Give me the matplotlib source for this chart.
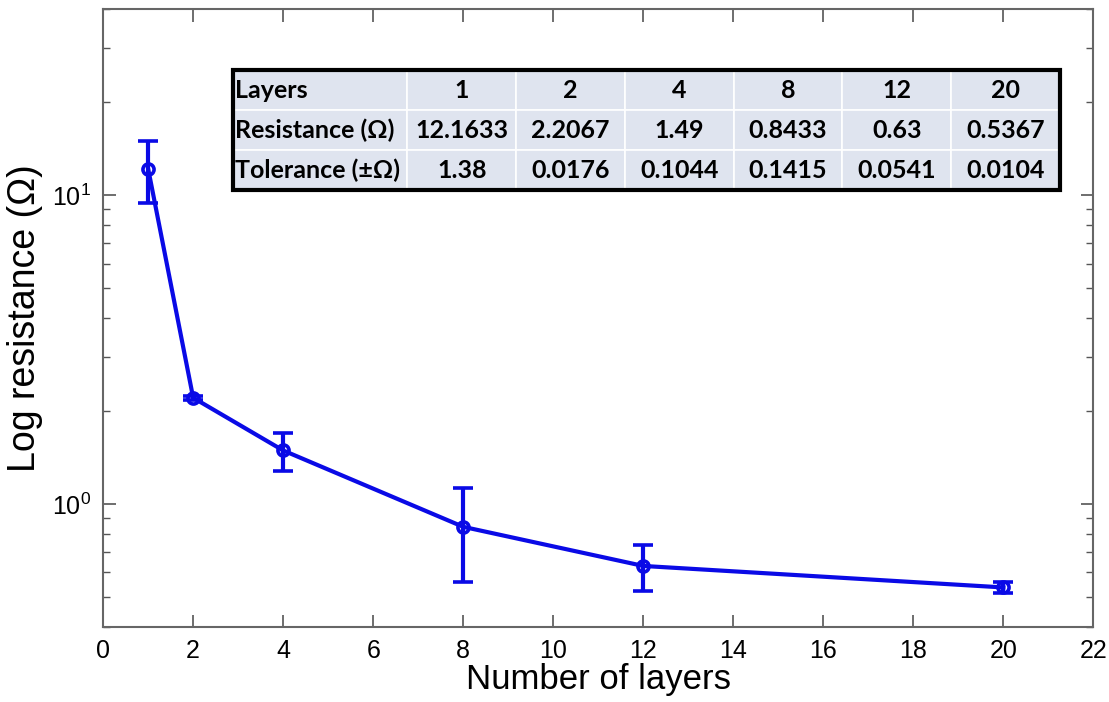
import matplotlib
matplotlib.use("Agg")
import matplotlib.pyplot as plt
from matplotlib import font_manager
from matplotlib.ticker import LogLocator, MultipleLocator

# data
layers = [1, 2, 4, 8, 12, 20]
resistance = [12.1633, 2.2067, 1.49, 0.8433, 0.63, 0.5367]
tolerance = [1.38, 0.0176, 0.1044, 0.1415, 0.0541, 0.0104]
# half length of the drawn error bars
err_half = [2.76, 0.035, 0.209, 0.283, 0.108, 0.021]

row_names = ["Layers", "Resistance (\u03a9)", "Tolerance (\u00b1\u03a9)"]
res_text = ["12.1633", "2.2067", "1.49", "0.8433", "0.63", "0.5367"]
tol_text = ["1.38", "0.0176", "0.1044", "0.1415", "0.0541", "0.0104"]

names = {f.name for f in font_manager.fontManager.ttflist}
axis_font = "Liberation Sans Narrow" if "Liberation Sans Narrow" in names else "Liberation Sans"
table_font = ["Lato", "DejaVu Sans"]

BLUE = "#0a0ae6"

fig = plt.figure(figsize=(11.09, 7.02), dpi=100)
ax = fig.add_axes([0.093, 0.107, 0.893, 0.880])

ax.errorbar(layers, resistance, yerr=err_half, color=BLUE, lw=3,
            marker="o", ms=8, mfc="none", mec=BLUE, mew=2.6,
            elinewidth=3, capsize=7, capthick=3)

ax.set_yscale("log")
ax.set_xlim(0, 22)
ax.set_ylim(0.4, 40)
ax.xaxis.set_major_locator(MultipleLocator(2))
ax.yaxis.set_major_locator(LogLocator(base=10, numticks=10))
ax.yaxis.set_minor_locator(LogLocator(base=10, subs=range(2, 10), numticks=20))

ax.tick_params(which="both", direction="in", top=True, right=True, color="#555555")
ax.tick_params(which="major", length=9, width=1.2, labelsize=18, pad=9,
               labelfontfamily=axis_font)
ax.tick_params(which="minor", length=5, width=1.0)
for sp in ax.spines.values():
    sp.set_color("#666666")
    sp.set_linewidth(1.5)

ax.set_xlabel("Number of layers", fontsize=25, family="Liberation Sans", labelpad=0)
ax.set_ylabel("Log resistance (\u03a9)", fontsize=27, family="Liberation Sans", labelpad=6)

# inset table
cells = [[row_names[0]] + [str(v) for v in layers],
         [row_names[1]] + res_text,
         [row_names[2]] + tol_text]
col_w = [0.211] + [0.1315] * 6
tb = ax.table(cellText=cells, colWidths=col_w, cellLoc="center",
              bbox=[0.131, 0.707, 0.835, 0.194])
tb.auto_set_font_size(False)
tb.set_fontsize(18)
for (r, c), cell in tb.get_celld().items():
    cell.set_facecolor("#dfe4ef")
    cell.set_edgecolor("white")
    cell.set_linewidth(1.2)
    cell.PAD = 0.01
    cell.set_text_props(fontweight="bold", family=table_font,
                        ha="left" if c == 0 else "center")
frame = plt.Rectangle((0.131, 0.707), 0.835, 0.194, transform=ax.transAxes,
                      fill=False, ec="black", lw=3, zorder=10)
ax.add_patch(frame)

fig.savefig("out.png", dpi=100)
